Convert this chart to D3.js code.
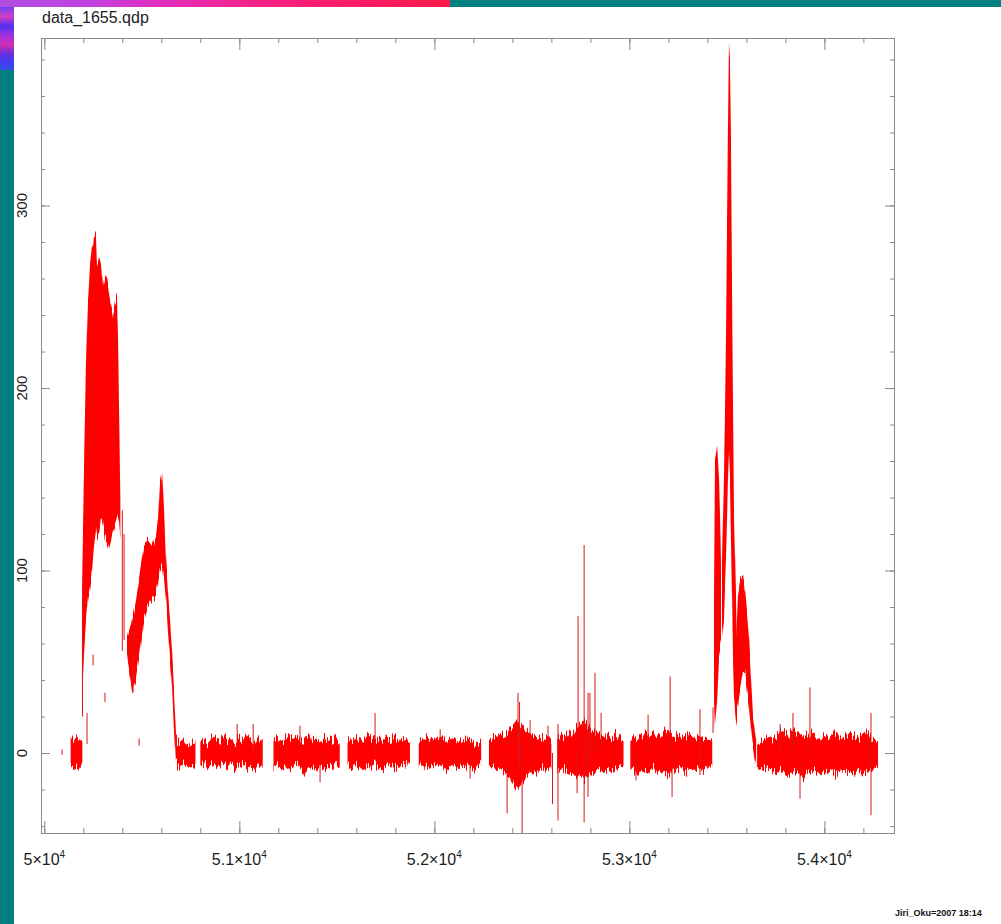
<!DOCTYPE html>
<html>
<head>
<meta charset="utf-8">
<script src="https://cdnjs.cloudflare.com/ajax/libs/d3/7.8.5/d3.min.js"></script>
<style>
  body { margin: 0; background: #008080; }
  svg { display: block; }
  text { font-family: "Liberation Sans", Arial, Helvetica, sans-serif; }
</style>
</head>
<body>
<div id="chart"></div>
<script>
// titles and ticks
var plotTitle = "data_1655.qdp";
var footerText = "Jiri_Oku=2007 18:14";
var xMajorTicks = [50000, 51000, 52000, 53000, 54000];
var yMajorTicks = [0, 100, 200, 300];

// quiet stretches of the light curve, binned: high / low envelope per bin
var binWidth = 20;
var quietStart = [50135, 50675, 50800, 51175, 51555, 51920, 52280, 52630, 53005, 53655];
var quietHigh = [
    [7, 9, 8, 6],
    [7, 6, 8, 5, 7, 6],
    [6, 8, 5, 9, 7, 6, 10, 7, 8, 6, 9, 7, 12, 8, 6, 9, 7],
    [7, 9, 6, 8, 10, 7, 9, 6, 8, 11, 7, 8, 6, 9, 8, 7, 9, 6],
    [6, 8, 7, 9, 6, 10, 8, 7, 9, 6, 8, 7, 9, 6, 8, 7, 5],
    [6, 7, 9, 6, 8, 7, 10, 6, 8, 9, 7, 6, 8, 9, 7, 6, 5],
    [7, 9, 8, 10, 9, 12, 15, 18, 16, 14, 12, 11, 10, 9, 8, 10, 7],
    [8, 10, 9, 12, 10, 14, 16, 18, 15, 13, 12, 10, 9, 11, 8, 10, 9, 7],
    [7, 9, 8, 10, 12, 9, 11, 8, 10, 13, 11, 9, 10, 8, 9, 11, 8, 10, 9, 7, 8, 6],
    [6, 8, 7, 9, 8, 10, 12, 11, 9, 13, 12, 10, 11, 9, 12, 10, 8, 11, 9, 10, 12, 9, 8, 10, 11, 9, 8, 10, 12, 9, 8, 7]
];
var quietLow = [
    [-7, -8, -9, -6],
    [-6, -8, -5, -7, -6, -8],
    [-7, -5, -8, -6, -9, -7, -6, -8, -5, -9, -7, -6, -8, -7, -9, -6, -8],
    [-8, -6, -9, -7, -10, -8, -6, -9, -12, -7, -8, -10, -6, -9, -7, -8, -6, -7],
    [-7, -9, -6, -8, -10, -7, -9, -6, -8, -10, -7, -6, -9, -8, -6, -7, -5],
    [-6, -8, -7, -9, -6, -8, -7, -10, -8, -6, -9, -7, -8, -6, -9, -7, -6],
    [-8, -7, -10, -9, -11, -13, -16, -20, -18, -15, -12, -10, -11, -9, -8, -10, -7],
    [-9, -10, -8, -12, -11, -14, -13, -15, -12, -11, -10, -9, -11, -8, -10, -9, -8, -7],
    [-8, -10, -12, -9, -11, -10, -8, -12, -10, -11, -13, -9, -10, -8, -11, -9, -10, -8, -9, -10, -8, -7],
    [-7, -8, -9, -8, -10, -11, -9, -12, -13, -11, -10, -12, -14, -10, -11, -9, -12, -10, -11, -9, -12, -10, -9, -11, -10, -12, -9, -13, -11, -10, -8, -7]
];

// flares: [time, low, high]
var flareOne = [
    [50193, 29, 84], [50204, 56, 161], [50214, 73, 215], [50224, 84, 248],
    [50234, 89, 267], [50245, 100, 278], [50250, 108, 280], [50255, 114, 285],
    [50265, 122, 283], [50270, 118, 268], [50280, 120, 272], [50290, 127, 269],
    [50301, 126, 255], [50311, 118, 262], [50321, 116, 260], [50332, 112, 252],
    [50342, 116, 245], [50352, 121, 240], [50362, 125, 246], [50373, 129, 250],
    [50378, 130, 230], [50383, 128, 190], [50390, 117, 139]
];
var flareTwo = [
    [50424, 51, 62], [50450, 33, 73], [50470, 40, 84], [50491, 56, 100],
    [50511, 73, 114], [50532, 81, 117], [50552, 84, 114], [50573, 87, 119],
    [50583, 92, 128], [50593, 100, 147], [50604, 103, 155], [50614, 95, 133],
    [50624, 84, 106], [50634, 67, 89], [50645, 51, 73], [50655, 35, 56],
    [50665, 13, 35], [50675, -5, 10]
];
var bigFlareArm = [
    [53434, 29, 84], [53439, 13, 161], [53450, 29, 168], [53460, 56, 150], [53470, 62, 106]
];
var bigFlarePeak = [
    [53475, 62, 106], [53485, 73, 150], [53496, 106, 232], [53501, 128, 292],
    [53506, 150, 347], [53511, 166, 389], [53516, 150, 380], [53521, 117, 336],
    [53527, 84, 248], [53532, 51, 182], [53537, 29, 128], [53547, 18, 84], [53552, 15, 56]
];
var bigFlareShoulder = [
    [53547, 21, 62], [53557, 26, 87], [53568, 35, 94], [53583, 45, 96],
    [53593, 45, 89], [53603, 35, 78], [53614, 24, 62], [53624, 13, 40],
    [53634, 4, 21], [53650, -7, 8]
];

// single hairline excursions: [time, low, high]
var spikes = [
    [50091, -1, 2], [50196, 20, 90], [50219, 5, 22], [50250, 48, 54], [50311, 28, 33],
    [50400, 56, 133], [50409, 62, 120], [50455, 33, 73], [50486, 4, 8],
    [50989, 0, 16], [51071, 0, 16], [51311, 0, 15], [51414, -16, 0], [51696, 0, 22],
    [52030, 0, 13], [52183, -14, 0], [52373, -33, 0], [52429, -5, 33], [52437, -10, 28],
    [52450, -44, 5], [52491, 0, 18], [52583, 0, 15], [52606, -28, 0], [52634, -37, 16],
    [52732, -22, 0], [52737, 0, 75], [52768, -38, 114], [52788, -24, 33], [52798, 0, 33],
    [52824, 0, 44], [52855, 0, 22], [53034, -15, 0], [53096, 0, 21], [53209, 0, 42],
    [53219, -24, 0], [53362, -12, 24], [53429, 11, 25], [53773, 0, 16], [53839, 0, 22],
    [53875, -25, 0], [53926, 0, 36], [54239, -34, 22]
];

var svgWidth = 1001;
var svgHeight = 924;

var margin = {
    top: 38,
    bottom: 91,
    left: 41,
    right: 107
};

var width = svgWidth - margin.left - margin.right;
var height = svgHeight - margin.top - margin.bottom;

var svg = d3.select("#chart")
    .append("svg")
    .attr("width", svgWidth)
    .attr("height", svgHeight);

// screen frame: teal background, white page, coloured strips
var defs = svg.append("defs");

var topGrad = defs.append("linearGradient").attr("id", "topStrip");
[["0%", "#b050e0"], ["20%", "#c040e0"], ["35%", "#e030c0"], ["60%", "#f52080"], ["100%", "#ff1a4a"]]
    .forEach(function (s) {
        topGrad.append("stop").attr("offset", s[0]).attr("stop-color", s[1]);
    });

var sideGrad = defs.append("linearGradient").attr("id", "sideStrip")
    .attr("x1", 0).attr("y1", 0).attr("x2", 0).attr("y2", 1);
[["0%", "#7040f0"], ["15%", "#d040c0"], ["30%", "#5030f0"], ["45%", "#a030e0"],
 ["60%", "#d030b0"], ["75%", "#6030e0"], ["90%", "#4040f0"], ["100%", "#3050e0"]]
    .forEach(function (s) {
        sideGrad.append("stop").attr("offset", s[0]).attr("stop-color", s[1]);
    });

// hairline texture on the band edges (rendering only, data untouched)
var rough = defs.append("filter").attr("id", "rough")
    .attr("color-interpolation-filters", "sRGB")
    .attr("filterUnits", "userSpaceOnUse")
    .attr("x", -10).attr("y", -20).attr("width", width + 20).attr("height", height + 40);
rough.append("feTurbulence")
    .attr("type", "fractalNoise")
    .attr("baseFrequency", "0.9 0.012")
    .attr("numOctaves", 1)
    .attr("seed", 4)
    .attr("result", "noise");
rough.append("feColorMatrix")
    .attr("in", "noise")
    .attr("type", "matrix")
    .attr("values", "0 0 0 0 0.5  1 0 0 0 0  0 0 0 0 0  0 0 0 0 1")
    .attr("result", "map");
rough.append("feDisplacementMap")
    .attr("in", "SourceAlpha")
    .attr("in2", "map")
    .attr("scale", 22)
    .attr("xChannelSelector", "R")
    .attr("yChannelSelector", "G")
    .attr("result", "moved");
// paint the displaced shape pure red
rough.append("feFlood").attr("flood-color", "#ff0000").attr("result", "red");
rough.append("feComposite").attr("in", "red").attr("in2", "moved").attr("operator", "in");

svg.append("rect").attr("width", svgWidth).attr("height", svgHeight).attr("fill", "#008080");
svg.append("rect").attr("x", 14).attr("y", 7).attr("width", svgWidth - 14).attr("height", svgHeight - 7).attr("fill", "#fff");
svg.append("rect").attr("x", 0).attr("y", 0).attr("width", 450).attr("height", 7).attr("fill", "url(#topStrip)");
svg.append("rect").attr("x", 0).attr("y", 7).attr("width", 14).attr("height", 63).attr("fill", "url(#sideStrip)");

defs.append("clipPath").attr("id", "plotClip")
    .append("rect").attr("width", width).attr("height", height);

var chartGroup = svg.append("g")
    .attr("transform", `translate(${margin.left}, ${margin.top})`);

// scales
var xLinearScale = d3.scaleLinear()
    .domain([49983, 54357])
    .range([0, width]);

var yLinearScale = d3.scaleLinear()
    .domain([-43.8, 391.8])
    .range([height, 0]);

var band = d3.area()
    .x(d => xLinearScale(d[0]))
    .y0(d => yLinearScale(d[1]))
    .y1(d => yLinearScale(d[2]));

var clipGroup = chartGroup.append("g").attr("clip-path", "url(#plotClip)");
var dataGroup = clipGroup.append("g").attr("filter", "url(#rough)");

// quiet stretches -> [time, low, high] rows
var quietRows = quietStart.map(function (start, i) {
    return quietHigh[i].map(function (h, j) {
        return [start + j * binWidth, quietLow[i][j], h];
    });
});

dataGroup.selectAll(".quiet")
    .data(quietRows)
    .enter()
    .append("path")
    .attr("class", "quiet")
    .attr("d", band)
    .attr("fill", "#ff0000");

dataGroup.selectAll(".flare")
    .data([flareOne, flareTwo, bigFlareArm, bigFlarePeak, bigFlareShoulder])
    .enter()
    .append("path")
    .attr("class", "flare")
    .attr("d", band)
    .attr("fill", "#ff0000");

clipGroup.selectAll(".spike")
    .data(spikes)
    .enter()
    .append("line")
    .attr("class", "spike")
    .attr("x1", d => xLinearScale(d[0]))
    .attr("x2", d => xLinearScale(d[0]))
    .attr("y1", d => yLinearScale(d[1]))
    .attr("y2", d => yLinearScale(d[2]))
    .attr("stroke", "#d81818")
    .attr("stroke-width", 1);

// axes: ticks point inwards on all four sides
var xMinor = d3.range(50000, 54357, 200);
var yMinor = d3.range(-40, 392, 20);

function drawAxis(axis, transform) {
    chartGroup.append("g")
        .attr("transform", transform)
        .call(axis)
        .call(g => g.select(".domain").remove())
        .call(g => g.selectAll("line").attr("stroke", "#8a8a8a"));
}

drawAxis(d3.axisBottom(xLinearScale).tickValues(xMinor).tickSize(-5).tickFormat(""), `translate(0, ${height})`);
drawAxis(d3.axisBottom(xLinearScale).tickValues(xMajorTicks).tickSize(-12).tickFormat(""), `translate(0, ${height})`);
drawAxis(d3.axisTop(xLinearScale).tickValues(xMinor).tickSize(-5).tickFormat(""), "translate(0, 0)");
drawAxis(d3.axisTop(xLinearScale).tickValues(xMajorTicks).tickSize(-12).tickFormat(""), "translate(0, 0)");
drawAxis(d3.axisLeft(yLinearScale).tickValues(yMinor).tickSize(-4).tickFormat(""), "translate(0, 0)");
drawAxis(d3.axisLeft(yLinearScale).tickValues(yMajorTicks).tickSize(-9).tickFormat(""), "translate(0, 0)");
drawAxis(d3.axisRight(yLinearScale).tickValues(yMinor).tickSize(-4).tickFormat(""), `translate(${width}, 0)`);
drawAxis(d3.axisRight(yLinearScale).tickValues(yMajorTicks).tickSize(-9).tickFormat(""), `translate(${width}, 0)`);

chartGroup.append("rect")
    .attr("x", 0.5)
    .attr("y", 0.5)
    .attr("width", width)
    .attr("height", height)
    .attr("fill", "none")
    .attr("stroke", "#8a8a8a");

// x tick labels like 5.1x10^4
var xLabels = chartGroup.selectAll(".xlab")
    .data(xMajorTicks)
    .enter()
    .append("text")
    .attr("class", "xlab")
    .attr("x", d => xLinearScale(d))
    .attr("y", height + 32)
    .attr("text-anchor", "middle")
    .style("font-size", "16px")
    .attr("fill", "#222");

xLabels.append("tspan").text(d => (d / 10000) + "\u00d710");
xLabels.append("tspan").attr("dy", -7).style("font-size", "10px").text("4");

// y tick labels, rotated
chartGroup.selectAll(".ylab")
    .data(yMajorTicks)
    .enter()
    .append("text")
    .attr("class", "ylab")
    .attr("transform", d => `translate(-14, ${yLinearScale(d)}) rotate(-90)`)
    .attr("text-anchor", "middle")
    .style("font-size", "15px")
    .attr("fill", "#222")
    .text(d => d);

svg.append("text")
    .attr("x", 42)
    .attr("y", 23)
    .style("font-size", "16px")
    .attr("fill", "#222")
    .text(plotTitle);

svg.append("text")
    .attr("x", 895)
    .attr("y", 916)
    .style("font-size", "9px")
    .style("font-weight", "bold")
    .attr("fill", "#111")
    .text(footerText);
</script>
</body>
</html>
